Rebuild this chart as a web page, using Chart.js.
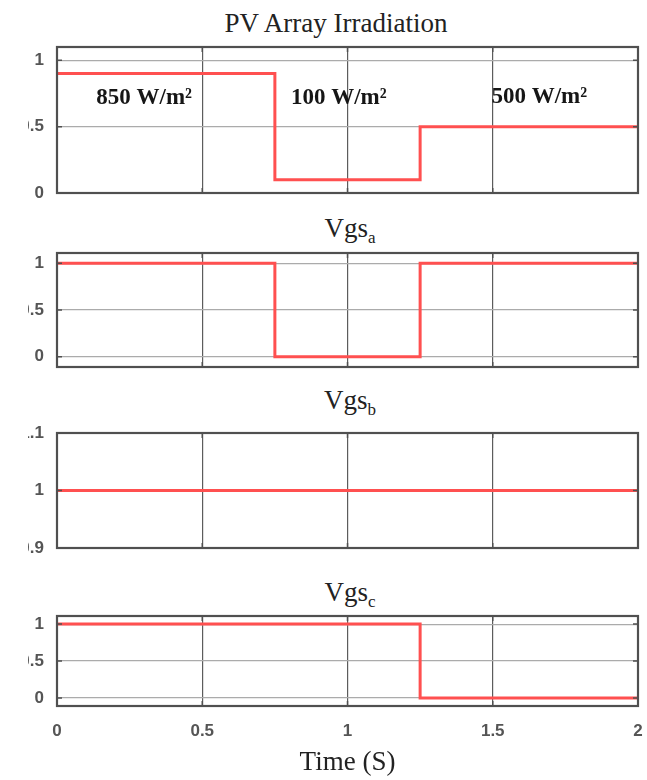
<!DOCTYPE html>
<html>
<head>
<meta charset="utf-8">
<script src="https://cdn.jsdelivr.net/npm/chart.js@4/dist/chart.umd.min.js"></script>
<style>
  body { margin: 0; background: #fff; }
  #wrap { position: relative; width: 647px; height: 780px; overflow: hidden; background: #fff; }
  .ttl { position: absolute; left: 0; text-align: center; font-family: "Liberation Serif", "Times New Roman", serif;
         font-size: 27px; line-height: 27px; color: #222; white-space: nowrap; }
  .ttl sub { font-size: 17px; vertical-align: -6px; line-height: 0; }
  .panel { position: absolute; left: 28px; width: 619px; overflow: hidden; }
  .panel canvas { position: absolute; left: -28px; top: 0; }
</style>
</head>
<body>
<div id="wrap">
  <div class="ttl" style="top:10px;width:672px">PV Array Irradiation</div>
  <div class="ttl" style="top:215px;width:700px">Vgs<sub>a</sub></div>
  <div class="ttl" style="top:387px;width:700px">Vgs<sub>b</sub></div>
  <div class="ttl" style="top:579px;width:700px">Vgs<sub>c</sub></div>

  <div class="panel" style="top:17px;height:206px"><canvas id="c1" width="647" height="206"></canvas></div>
  <div class="panel" style="top:223px;height:174px"><canvas id="c2" width="647" height="174"></canvas></div>
  <div class="panel" style="top:403px;height:175px"><canvas id="c3" width="647" height="175"></canvas></div>
  <div class="panel" style="top:586px;height:194px"><canvas id="c4" width="647" height="194"></canvas></div>
</div>
<script>
// step points (time in s, value)
const tIrr = [0, 0.75, 1.25, 2];
const irr = [0.9, 0.1, 0.5, 0.5];
const tA = [0, 0.75, 1.25, 2];
const vgsA = [1, 0, 1, 1];
const tB = [0, 2];
const vgsB = [1, 1];
const tC = [0, 1.25, 2];
const vgsC = [1, 0, 0];

const timeTicks = [0, 0.5, 1, 1.5, 2];
const ticks01 = [0, 0.5, 1];
const ticksB = [0.9, 1, 1.1];

const irrLabels = ['850 W/m²', '100 W/m²', '500 W/m²'];
const irrLabelX = [0.30, 0.97, 1.66];
const irrLabelY = [0.67, 0.67, 0.68];

Chart.defaults.font.family = '"Liberation Sans", Arial, sans-serif';

const boxPlugin = {
    id: 'box',
    afterDraw(chart) {
        const { ctx, chartArea: a, scales } = chart;
        ctx.save();
        ctx.strokeStyle = '#505050';
        ctx.lineWidth = 1.5;
        ctx.beginPath();
        scales.y.ticks.forEach(t => {
            const y = scales.y.getPixelForValue(t.value);
            ctx.moveTo(a.left, y); ctx.lineTo(a.left + 5, y);
            ctx.moveTo(a.right, y); ctx.lineTo(a.right - 5, y);
        });
        scales.x.ticks.forEach(t => {
            const x = scales.x.getPixelForValue(t.value);
            ctx.moveTo(x, a.bottom); ctx.lineTo(x, a.bottom - 5);
            ctx.moveTo(x, a.top); ctx.lineTo(x, a.top + 5);
        });
        ctx.stroke();
        ctx.lineWidth = 2.2;
        ctx.strokeRect(a.left, a.top, a.right - a.left, a.bottom - a.top);
        ctx.restore();
    }
};

const labelPlugin = {
    id: 'irrLabels',
    afterDatasetsDraw(chart) {
        if (chart.canvas.id !== 'c1') return;
        const { ctx, scales } = chart;
        ctx.save();
        ctx.font = 'bold 23px "Liberation Serif", "Times New Roman", serif';
        ctx.fillStyle = '#161616';
        ctx.textAlign = 'center';
        ctx.textBaseline = 'alphabetic';
        irrLabels.forEach((txt, i) => {
            ctx.fillText(txt, scales.x.getPixelForValue(irrLabelX[i]), scales.y.getPixelForValue(irrLabelY[i]));
        });
        ctx.restore();
    }
};

function createPanel(id, xs, ys, yMin, yMax, yTicks, isBottom) {
    const pts = xs.map((x, i) => ({ x: x, y: ys[i] }));
    return new Chart(document.getElementById(id).getContext('2d'), {
        type: 'line',
        data: {
            datasets: [{
                data: pts,
                stepped: true,
                borderColor: '#ff5050',
                borderWidth: 3,
                pointRadius: 0,
                fill: false
            }]
        },
        options: {
            responsive: false,
            animation: false,
            events: [],
            layout: { padding: { top: 30, bottom: isBottom ? 0 : 30, left: 0, right: 9 } },
            plugins: { legend: { display: false }, tooltip: { enabled: false } },
            scales: {
                x: {
                    type: 'linear',
                    min: 0,
                    max: 2,
                    afterBuildTicks: s => { s.ticks = timeTicks.map(v => ({ value: v })); },
                    afterFit: s => { s.height = isBottom ? 74 : 0; },
                    grid: { color: '#5c5c5c', lineWidth: 1.2, drawTicks: isBottom, tickLength: 15, tickColor: 'rgba(0,0,0,0)' },
                    border: { display: false },
                    ticks: {
                        display: isBottom,
                        padding: 0,
                        color: '#555',
                        font: { size: 17, weight: 'bold' },
                        maxRotation: 0,
                        callback: v => String(v)
                    },
                    title: {
                        display: isBottom,
                        text: 'Time (S)',
                        color: '#222',
                        font: { family: '"Liberation Serif", "Times New Roman", serif', size: 27 },
                        padding: { top: 0, bottom: 1 }
                    }
                },
                y: {
                    min: yMin,
                    max: yMax,
                    afterBuildTicks: s => { s.ticks = yTicks.map(v => ({ value: v })); },
                    afterFit: s => { s.width = 57; },
                    grid: { color: '#ababab', lineWidth: 1.2, drawTicks: false },
                    border: { display: false },
                    ticks: {
                        padding: 13,
                        color: '#555',
                        font: { size: 17, weight: 'bold' },
                        callback: v => String(v)
                    }
                }
            }
        },
        plugins: [boxPlugin, labelPlugin]
    });
}

const chart1 = createPanel('c1', tIrr, irr, 0, 1.1, ticks01, false);
const chart2 = createPanel('c2', tA, vgsA, -0.11, 1.11, ticks01, false);
const chart3 = createPanel('c3', tB, vgsB, 0.9, 1.1, ticksB, false);
const chart4 = createPanel('c4', tC, vgsC, -0.11, 1.11, ticks01, true);
</script>
</body>
</html>
